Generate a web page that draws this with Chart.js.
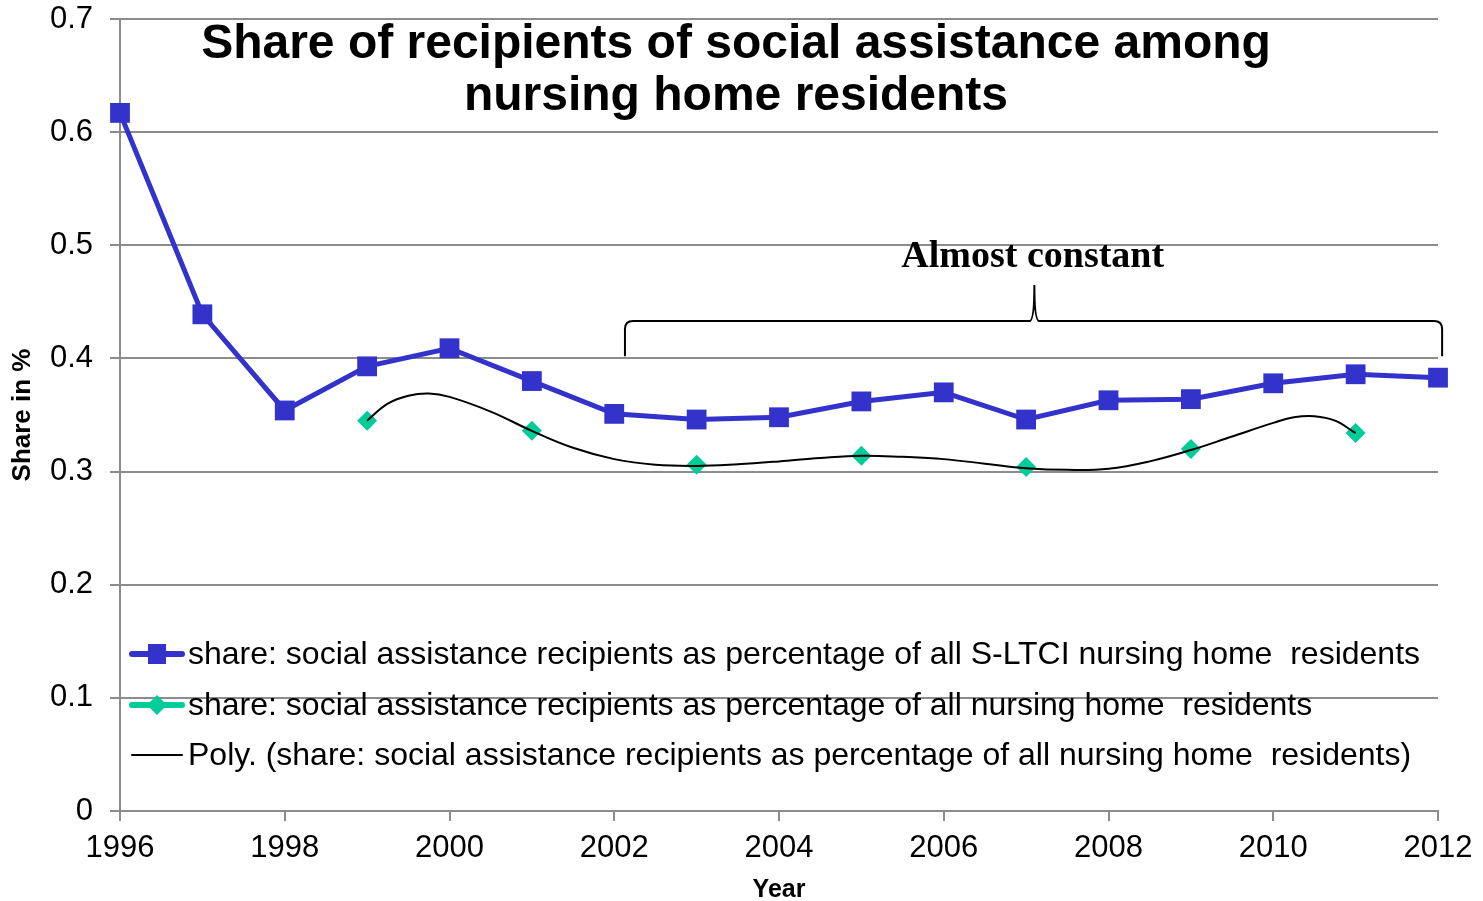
<!DOCTYPE html>
<html>
<head>
<meta charset="utf-8">
<title>Share of recipients of social assistance among nursing home residents</title>
<script src="https://cdn.jsdelivr.net/npm/chart.js@4"></script>
<style>
  html, body { margin: 0; padding: 0; background: #fff; }
  #chart { display: block; }
</style>
</head>
<body>
<canvas id="chart" width="1483" height="901"></canvas>
<script>
// --- data ---
const years = [1996, 1997, 1998, 1999, 2000, 2001, 2002, 2003, 2004, 2005, 2006, 2007, 2008, 2009, 2010, 2011, 2012];
const shareLtci = [0.617, 0.439, 0.354, 0.393, 0.409, 0.380, 0.351, 0.346, 0.348, 0.362, 0.370, 0.346, 0.363, 0.364, 0.378, 0.386, 0.383];

const oddYears = [1999, 2001, 2003, 2005, 2007, 2009, 2011];
const shareAll = [0.345, 0.336, 0.306, 0.314, 0.304, 0.320, 0.334];

// trend line
const trendYears = [1999, 1999.25, 1999.5, 1999.75, 2000, 2000.5, 2001, 2001.5, 2002, 2002.5, 2003, 2003.5, 2004, 2004.5,
                    2005, 2005.5, 2006, 2006.5, 2007, 2007.5, 2008, 2008.5, 2009, 2009.5, 2010, 2010.25, 2010.5, 2010.75, 2011];
const trendValues = [0.345, 0.360, 0.367, 0.369, 0.366, 0.353, 0.336, 0.321, 0.311, 0.306, 0.305, 0.3065, 0.309, 0.312,
                     0.314, 0.313, 0.311, 0.307, 0.303, 0.3015, 0.3025, 0.309, 0.319, 0.331, 0.343, 0.348, 0.349, 0.345, 0.334];

const yTicks = [0, 0.1, 0.2, 0.3, 0.4, 0.5, 0.6, 0.7];

const titleLines = ['Share of recipients of social assistance among', 'nursing home residents'];
const legendLabels = [
  'share: social assistance recipients as percentage of all S-LTCI nursing home  residents',
  'share: social assistance recipients as percentage of all nursing home  residents',
  'Poly. (share: social assistance recipients as percentage of all nursing home  residents)'
];
const noteText = 'Almost constant';

const BLUE = '#3333CC';
const GREEN = '#00CC99';
const GRID = '#8c8c8c';
const SANS = '"Liberation Sans", Arial, sans-serif';

const pts = (xs, ys) => xs.map((x, i) => ({ x: x, y: ys[i] }));

// title, legend and the brace note are painted straight onto the canvas
const overlay = {
  id: 'overlay',
  afterDraw(chart) {
    const ctx = chart.ctx;
    const xs = chart.scales.x, ys = chart.scales.y;
    ctx.save();

    // title
    ctx.fillStyle = '#000';
    ctx.font = 'bold 48px ' + SANS;
    ctx.textAlign = 'center';
    ctx.textBaseline = 'alphabetic';
    ctx.fillText(titleLines[0], 736, 58);
    ctx.fillText(titleLines[1], 736, 110);

    // brace over 2002-2012
    const x0 = xs.getPixelForValue(2002.13), x1 = xs.getPixelForValue(2012.05);
    const xm = xs.getPixelForValue(2007.1);
    const yEnd = ys.getPixelForValue(0.402), yMid = ys.getPixelForValue(0.433), yTip = ys.getPixelForValue(0.465);
    ctx.strokeStyle = '#000';
    ctx.lineWidth = 2;
    ctx.beginPath();
    ctx.moveTo(x0, yEnd);
    ctx.lineTo(x0, yMid + 8);
    ctx.quadraticCurveTo(x0, yMid, x0 + 8, yMid);
    ctx.lineTo(xm - 5, yMid);
    ctx.quadraticCurveTo(xm, yMid, xm, yTip);
    ctx.quadraticCurveTo(xm, yMid, xm + 5, yMid);
    ctx.lineTo(x1 - 8, yMid);
    ctx.quadraticCurveTo(x1, yMid, x1, yMid + 8);
    ctx.lineTo(x1, yEnd);
    ctx.stroke();

    ctx.font = 'bold 38px "Liberation Serif", "Times New Roman", serif';
    ctx.fillText(noteText, xs.getPixelForValue(2007.08), ys.getPixelForValue(0.4805));

    // legend
    ctx.font = '32px ' + SANS;
    ctx.textAlign = 'left';
    ctx.textBaseline = 'middle';
    const rows = [654, 705, 755];
    const lx0 = 130, lx1 = 184, lcx = 157;
    chart.data.datasets.forEach((ds, i) => {
      const y = rows[i];
      ctx.lineCap = 'round';
      ctx.strokeStyle = ds.legendColor;
      ctx.lineWidth = ds.legendWidth;
      ctx.beginPath();
      ctx.moveTo(lx0 + 2, y);
      ctx.lineTo(lx1 - 2, y);
      ctx.stroke();
      ctx.fillStyle = ds.legendColor;
      if (ds.pointStyle === 'rect') {
        ctx.fillRect(lcx - 9, y - 10, 18, 20);
      } else if (ds.pointStyle === 'rectRot') {
        ctx.beginPath();
        ctx.moveTo(lcx - 10, y);
        ctx.lineTo(lcx, y - 10);
        ctx.lineTo(lcx + 10, y);
        ctx.lineTo(lcx, y + 10);
        ctx.closePath();
        ctx.fill();
      }
      ctx.fillStyle = '#000';
      ctx.fillText(legendLabels[i], 188, y + 1);
    });
    ctx.restore();
  }
};

new Chart(document.getElementById('chart'), {
  type: 'line',
  data: {
    datasets: [
      {
        label: legendLabels[0],
        data: pts(years, shareLtci),
        borderColor: BLUE,
        backgroundColor: BLUE,
        borderWidth: 5,
        pointStyle: 'rect',
        pointRadius: 14,
        pointBorderWidth: 0,
        tension: 0,
        clip: false,
        order: 0,
        legendColor: BLUE,
        legendWidth: 6
      },
      {
        label: legendLabels[1],
        data: pts(oddYears, shareAll),
        showLine: false,
        borderColor: GREEN,
        backgroundColor: GREEN,
        pointStyle: 'rectRot',
        pointRadius: 10,
        pointBorderWidth: 0,
        clip: false,
        order: 2,
        legendColor: GREEN,
        legendWidth: 6
      },
      {
        label: legendLabels[2],
        data: pts(trendYears, trendValues),
        borderColor: '#000',
        borderWidth: 2,
        pointRadius: 0,
        tension: 0.4,
        order: 1,
        legendColor: '#000',
        legendWidth: 2
      }
    ]
  },
  options: {
    responsive: false,
    animation: false,
    layout: { padding: { top: 0, right: 45, left: 0, bottom: 0 } },
    plugins: {
      legend: { display: false },
      title: { display: false },
      tooltip: { enabled: false }
    },
    scales: {
      x: {
        type: 'linear',
        min: 1996,
        max: 2012,
        afterFit(scale) { scale.height = 90; },
        afterBuildTicks(scale) {
          scale.ticks = [];
          for (let v = 1996; v <= 2012; v += 2) scale.ticks.push({ value: v });
        },
        ticks: {
          color: '#000',
          font: { family: SANS, size: 31 },
          padding: 9,
          maxRotation: 0,
          autoSkip: false,
          callback: v => String(v)
        },
        grid: { drawOnChartArea: false, drawTicks: true, tickLength: 10, color: GRID, lineWidth: 2 },
        border: { color: GRID, width: 2 },
        title: {
          display: true,
          text: 'Year',
          color: '#000',
          font: { family: SANS, size: 25, weight: 'bold', lineHeight: 1 },
          padding: { top: 0, bottom: -2 }
        }
      },
      y: {
        min: 0,
        max: 0.7,
        afterFit(scale) {
          scale.width = 120;
          // keep the plot top at 0.7 close to the canvas edge
          scale.paddingTop = 19;
          scale.paddingBottom = 0;
        },
        afterBuildTicks(scale) { scale.ticks = yTicks.map(v => ({ value: v })); },
        ticks: {
          color: '#000',
          font: { family: SANS, size: 31 },
          padding: 17,
          callback: v => (v === 0 ? '0' : v.toFixed(1))
        },
        grid: { color: GRID, lineWidth: 2, tickLength: 10 },
        border: { color: GRID, width: 2 },
        title: {
          display: true,
          text: 'Share in %',
          color: '#000',
          font: { family: SANS, size: 26, weight: 'bold', lineHeight: 1 },
          padding: { top: 10, bottom: 0 }
        }
      }
    }
  },
  plugins: [overlay]
});
</script>
</body>
</html>
